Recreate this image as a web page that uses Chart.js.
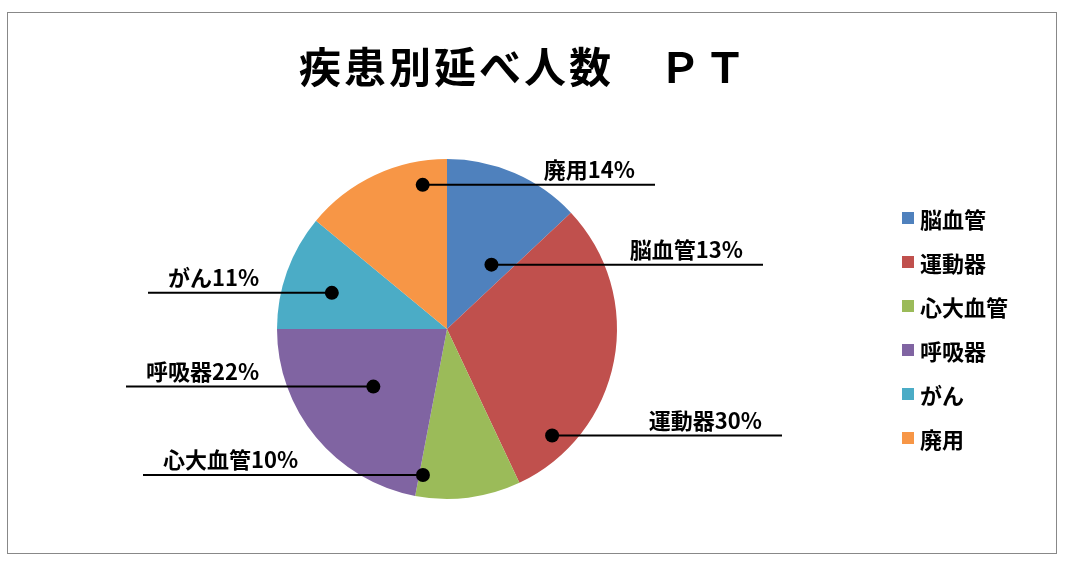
<!DOCTYPE html>
<html><head><meta charset="utf-8">
<script src="https://cdn.jsdelivr.net/npm/chart.js@4/dist/chart.umd.min.js"></script>
<style>
body{margin:0;background:#fff;font-family:"Noto Sans CJK JP",sans-serif;}
#frame{position:absolute;left:7px;top:12px;width:1050px;height:542px;border:1.5px solid #888;box-sizing:border-box;}
#wrap{position:absolute;left:0;top:0;width:1068px;height:567px;}
#title{position:absolute;left:0;width:1068px;top:34px;text-align:center;font-size:42px;font-weight:bold;letter-spacing:3px;padding-right:20px;box-sizing:border-box;}
#legend{position:absolute;left:902px;top:196px;font-size:22px;font-weight:bold;}
#legend div{height:44px;display:flex;align-items:center;}
#legend span.b{display:inline-block;width:12px;height:12px;margin-right:6px;}
</style></head><body>
<div id="frame"></div>
<div id="wrap"><canvas id="c" width="1068" height="567"></canvas></div>
<div id="title">疾患別延べ人数　ＰＴ</div>
<div id="legend"></div>
<script>
const categories=["脳血管","運動器","心大血管","呼吸器","がん","廃用"];
const values=[13,30,10,22,11,14];
const colors=["#4f81bd","#c0504d","#9bbb59","#8064a2","#4bacc6","#f79646"];
// label layout: dot position within slice (angle fraction, radius fraction), line end x
const dotA=[0.74,0.82,0.96,0.52,0.44,0.81];
const dotR=[0.46,0.88,0.87,0.55,0.71,0.86];
const lineEnd=[763,782,143,126,148,655];
const lg=document.getElementById('legend');
categories.forEach((c,i)=>{const d=document.createElement('div');d.innerHTML='<span class="b" style="background:'+colors[i]+'"></span>'+c;lg.appendChild(d);});
const leader={id:'leader',afterDatasetsDraw(ch){
 const ctx=ch.ctx;const meta=ch.getDatasetMeta(0);
 ctx.save();ctx.font='bold 22px "Noto Sans CJK JP"';ctx.textBaseline='bottom';
 meta.data.forEach((a,i)=>{
  const ang=a.startAngle+(a.endAngle-a.startAngle)*dotA[i];const r=a.outerRadius*dotR[i];
  const x=a.x+Math.cos(ang)*r,y=a.y+Math.sin(ang)*r;
  ctx.strokeStyle='#000';ctx.lineWidth=2;ctx.beginPath();ctx.moveTo(x,y);ctx.lineTo(lineEnd[i],y);ctx.stroke();
  ctx.fillStyle='#000';ctx.beginPath();ctx.arc(x,y,7,0,Math.PI*2);ctx.fill();
  const t=categories[i]+values[i]+'%';
  const left=lineEnd[i]<x;
  ctx.textAlign=left?'left':'right';
  const tx=left?lineEnd[i]+20:lineEnd[i]-20;
  ctx.fillText(t,tx,y-4);
 });ctx.restore();}};
new Chart(document.getElementById('c'),{type:'pie',
 data:{labels:categories,datasets:[{data:values,backgroundColor:colors,borderWidth:0}]},
 options:{responsive:false,animation:false,
  layout:{padding:{left:277,right:451,top:159,bottom:68}},
  plugins:{legend:{display:false},tooltip:{enabled:false}}},
 plugins:[leader]});
</script></body></html>
